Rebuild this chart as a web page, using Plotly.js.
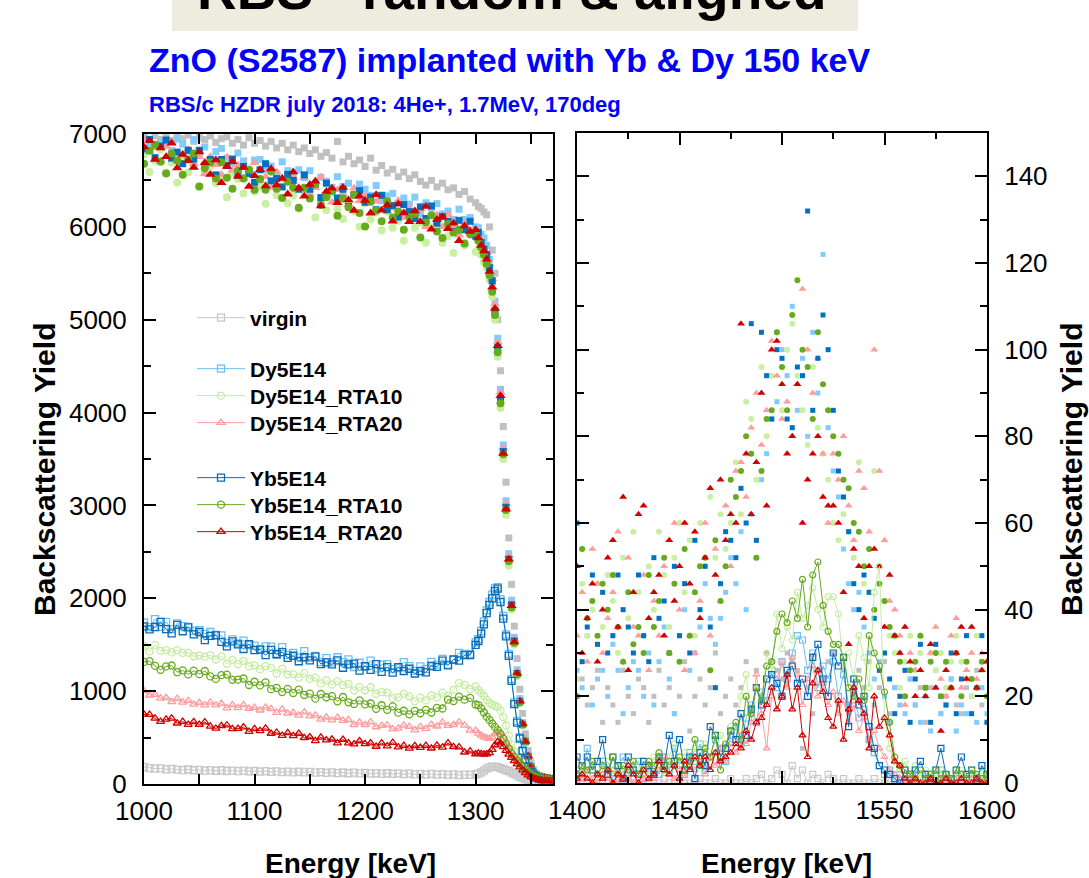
<!DOCTYPE html>
<html>
<head>
<meta charset="utf-8">
<script src="https://cdn.plot.ly/plotly-3.0.1.min.js"></script>
<style>html,body{margin:0;padding:0;background:#fff;}#chart{width:1089px;height:878px;}</style>
</head>
<body>
<div id="chart"></div>
<script>
// ---------- energies ----------
const EL = [1000,1005,1010,1015,1020,1025,1030,1035,1040,1045,1050,1055,1060,1065,1070,1075,1080,1085,1090,1095,1100,1105,1110,1115,1120,1125,1130,1135,1140,1145,1150,1155,1160,1165,1170,1175,1180,1185,1190,1195,1200,1205,1210,1215,1220,1225,1230,1235,1240,1245,1250,1255,1260,1265,1270,1275,1280,1285,1290,1295,1300,
 1302.5,1305,1307.5,1310,1312.5,1315,1317.5,1320,1322.5,1325,1327.5,1330,1332.5,1335,1337.5,1340,1342.5,1345,1347.5,1350,1352.5,1355,1357.5,1360,1362.5,1365,1367.5,1370];
const ER = [1400,1402.5,1405,1407.5,1410,1412.5,1415,1417.5,1420,1422.5,1425,1427.5,1430,1432.5,1435,1437.5,1440,1442.5,1445,1447.5,1450,1452.5,1455,1457.5,1460,1462.5,1465,1467.5,1470,1472.5,1475,1477.5,1480,1482.5,1485,1487.5,1490,1492.5,1495,1497.5,1500,1502.5,1505,1507.5,1510,1512.5,1515,1517.5,1520,1522.5,1525,1527.5,1530,1532.5,1535,1537.5,1540,1542.5,1545,1547.5,1550,1552.5,1555,1557.5,1560,1562.5,1565,1567.5,1570,1572.5,1575,1577.5,1580,1582.5,1585,1587.5,1590,1592.5,1595,1597.5,1600];

// ---------- left panel: random spectra ----------
const L_virgin_rand = [6960,6920,6980,6940,6990,6930,6970,6950,6990,6920,6960,6940,6980,6910,6950,6970,6900,6940,6880,6960,6900,6930,6870,6920,6850,6900,6830,6880,6810,6850,6790,6830,6760,6800,6740,6920,6700,6760,6680,6720,6650,6740,6610,6660,6580,6620,6540,6590,6520,6560,6490,6450,6500,6430,6470,6400,6420,6350,6380,6300,6260,
 6220,6200,6160,6130,6000,5750,5500,5000,4450,3850,3250,2650,2150,1700,1350,1020,760,540,360,230,150,110,90,78,70,64,60,56];
const L_Dy_rand = [7010,6900,7035,6910,6925,6820,6945,6890,6815,6940,6795,6860,6725,6810,6845,6740,6690,6795,6710,6605,6720,6725,6620,6655,6560,6700,6605,6540,6615,6530,6605,6440,6535,6490,6425,6540,6435,6470,6345,6460,6405,6340,6445,6280,6335,6360,6255,6310,6245,6320,6145,6260,6205,6250,6140,6170,6080,6190,6080,6100,6000,
 5990,5920,5880,5800,5650,5400,5200,4800,4250,3650,3050,2480,1980,1580,1230,920,660,470,310,195,128,97,82,74,68,63,59,56];
const L_DyR10_rand = [6780,6590,6715,6830,6585,6690,6475,6720,6585,6660,6435,6590,6655,6470,6515,6320,6580,6515,6360,6575,6380,6435,6250,6465,6340,6520,6255,6340,6195,6360,6385,6100,6285,6180,6365,6190,6085,6250,6165,6000,6255,6080,6155,5960,6165,5990,6065,5850,6125,5990,6045,5830,5995,6040,5830,5900,5720,5940,5800,5950,5730,
 5760,5700,5620,5560,5430,5250,5000,4600,4050,3500,2900,2350,1880,1500,1160,870,630,450,290,185,120,92,78,70,65,60,57,54];
const L_DyR20_rand = [6940,6810,6855,6710,6865,6920,6705,6770,6835,6680,6755,6570,6755,6670,6565,6750,6610,6665,6520,6615,6690,6495,6540,6425,6590,6520,6345,6530,6425,6530,6355,6420,6535,6340,6265,6400,6355,6240,6415,6280,6335,6140,6275,6310,6165,6200,6285,6100,6195,6110,6195,6000,6115,6130,6000,6130,6000,5910,6040,5970,5900,
 5900,5860,5790,5720,5600,5440,5170,4760,4220,3620,3020,2460,1960,1560,1210,905,655,465,305,192,126,96,81,73,67,62,58,55];
const L_Yb_rand = [6840,6940,6745,6870,6935,6740,6805,6680,6825,6730,6825,6660,6725,6560,6725,6660,6730,6555,6650,6575,6480,6615,6680,6495,6520,6430,6565,6500,6405,6560,6405,6460,6315,6470,6385,6310,6405,6220,6345,6390,6265,6320,6185,6340,6185,6230,6105,6240,6165,6090,6215,6090,6225,6040,6110,6060,5950,6070,5970,6060,5900,
 5940,5830,5760,5700,5560,5420,5100,4700,4150,3580,2980,2420,1930,1540,1190,890,640,455,298,185,122,94,80,72,66,62,58,55];
const L_YbR10_rand = [6680,6820,6885,6700,6575,6790,6715,6560,6725,6790,6435,6630,6695,6520,6695,6530,6410,6605,6520,6615,6400,6515,6400,6595,6410,6310,6485,6420,6205,6420,6305,6460,6235,6320,6385,6120,6305,6210,6345,6150,6005,6270,6175,6060,6275,6100,6165,5970,6105,6140,5885,6050,6125,5950,5880,6030,5940,5970,5820,5920,5940,
 5850,5780,5700,5600,5480,5300,5050,4650,4100,3550,2950,2400,1900,1520,1180,880,640,460,295,188,124,95,80,72,66,61,57,54];
const L_YbR20_rand = [6860,6930,6725,6850,6755,6900,6635,6780,6715,6640,6805,6690,6565,6720,6475,6650,6700,6545,6640,6435,6550,6615,6440,6625,6450,6520,6355,6590,6415,6330,6455,6490,6225,6380,6415,6260,6425,6290,6175,6330,6285,6150,6345,6180,6235,6060,6245,6150,6055,6170,6055,6220,5975,6080,6110,5980,6040,5850,6010,5950,5970,
 5880,5800,5740,5650,5520,5350,5120,4720,4180,3560,2960,2420,1920,1530,1190,890,645,458,298,188,124,95,80,72,66,61,57,54];

// ---------- left panel: aligned spectra ----------
const L_virgin_al = [185,172,165,168,158,162,155,150,156,148,152,145,150,142,148,140,145,138,144,136,140,134,138,130,136,128,134,126,132,125,130,122,128,120,126,118,124,116,122,114,120,112,118,110,116,108,114,106,112,104,110,102,108,100,106,98,104,96,100,98,105,
 112,125,145,165,178,186,188,182,172,160,148,138,124,108,92,78,65,54,46,40,36,33,31,30,29,28,27,27];
const L_Dy_al = [1740,1690,1775,1692,1745,1667,1730,1700,1693,1650,1658,1616,1637,1605,1600,1517,1558,1515,1545,1497,1490,1453,1483,1480,1390,1475,1390,1413,1362,1430,1362,1380,1312,1355,1310,1365,1313,1342,1260,1306,1270,1328,1245,1285,1291,1237,1247,1313,1270,1218,1267,1237,1315,1286,1348,1285,1336,1412,1400,1400,1525,
 1560,1650,1750,1870,1960,2040,2110,2120,1990,1810,1610,1400,1130,880,680,505,365,270,190,136,99,75,59,50,46,43,41,39];
const L_DyR10_al = [1486,1428,1499,1434,1442,1417,1442,1412,1415,1376,1383,1369,1388,1341,1374,1294,1336,1290,1327,1268,1278,1234,1270,1250,1190,1243,1179,1184,1146,1196,1132,1146,1083,1117,1070,1108,1064,1079,1009,1043,1009,1042,971,989,985,924,933,971,944,890,930,900,953,932,984,949,1014,1087,1068,1021,1050,
 1010,980,950,905,875,855,840,830,790,720,630,520,430,350,290,240,195,160,128,104,85,70,58,50,45,42,40,38];
const L_DyR20_al = [1002,956,963,923,929,884,919,879,897,857,876,850,879,849,866,818,852,820,852,813,824,794,825,809,768,803,760,768,740,775,732,740,696,719,687,716,682,690,638,664,638,666,614,628,633,591,599,632,618,580,617,597,639,622,663,628,638,666,631,577,575,
 545,525,505,495,490,505,540,560,550,510,455,400,350,305,270,240,200,165,135,110,88,70,58,50,45,42,40,38];
const L_Yb_al = [1697,1665,1690,1745,1668,1623,1714,1645,1687,1611,1637,1550,1595,1601,1530,1483,1537,1503,1454,1506,1442,1448,1387,1445,1400,1421,1359,1381,1322,1365,1332,1371,1292,1310,1288,1331,1252,1289,1297,1220,1268,1229,1290,1207,1258,1199,1258,1217,1241,1190,1215,1202,1271,1262,1328,1277,1341,1328,1388,1387,1498,
 1540,1620,1720,1840,1930,2000,2080,2105,1960,1780,1590,1380,1110,860,660,490,355,262,185,132,96,72,57,49,45,42,40,38];
const L_YbR10_al = [1315,1324,1272,1230,1266,1276,1204,1223,1180,1220,1183,1217,1159,1132,1172,1178,1122,1124,1136,1066,1101,1062,1094,1021,1036,990,1025,980,1017,959,973,919,969,934,946,890,937,880,862,900,857,867,810,848,799,836,768,789,750,788,762,799,770,820,813,908,893,941,908,927,856,
 850,815,770,725,690,650,615,580,540,490,430,380,330,290,255,222,185,155,130,108,88,72,60,52,47,44,41,39];
const L_YbR20_al = [750,748,706,671,697,707,654,671,639,670,641,666,620,598,627,633,593,597,613,564,594,572,599,544,555,521,550,519,544,498,506,465,503,473,482,441,479,441,430,463,432,441,404,440,408,445,397,413,384,412,392,414,385,416,394,441,401,397,342,354,323,
 330,325,320,322,335,370,420,455,440,400,360,320,285,250,215,182,150,120,95,76,62,52,45,40,37,35,33,32];

// ---------- right panel: random spectra ----------
const R_virgin_rand = [20,24,18,22,26,14,22,18,14,26,20,16,24,22,14,20,26,18,22,16,20,28,12,20,24,18,22,30,16,20,24,18,22,28,16,26,20,30,28,26,24,30,28,26,8,22,16,26,24,28,30,18,26,16,20,26,22,28,18,22,28,16,22,30,20,24,18,22,14,22,26,16,20,24,18,16,22,20,26,18,20];
const R_Dy_rand = [26,22,34,18,24,26,20,32,26,16,22,28,26,20,30,18,28,36,24,16,34,40,26,30,36,46,38,32,38,44,52,46,58,40,62,52,70,76,84,88,100,94,110,86,98,80,104,90,122,82,72,66,54,46,40,44,36,30,24,28,20,14,22,18,16,24,18,14,20,12,22,16,18,24,12,18,16,20,14,22,16];
const R_DyR10_rand = [24,46,34,40,46,36,48,42,30,52,38,58,44,34,50,40,58,48,36,52,60,44,56,34,60,50,66,52,62,54,60,74,62,88,84,70,96,80,94,104,86,100,106,94,86,78,96,82,76,70,60,56,62,58,52,74,46,44,72,50,42,34,30,22,28,34,26,30,22,30,26,30,22,28,34,28,24,20,34,26,28];
const R_DyR20_rand = [34,44,28,54,46,30,38,44,58,28,52,36,34,48,26,42,34,50,30,60,40,26,34,30,42,60,34,54,42,64,50,72,74,66,82,90,78,86,102,94,84,88,80,92,114,100,90,98,76,60,76,70,80,64,56,72,68,58,100,72,56,42,40,34,18,30,26,34,22,30,36,24,20,34,38,22,26,30,24,30,14];
const R_Yb_rand = [60,28,36,48,32,44,30,34,48,40,36,30,48,34,28,52,38,42,30,50,34,46,30,56,40,50,36,22,46,58,56,52,68,60,106,56,104,94,84,100,98,84,82,96,94,132,86,98,108,100,86,72,66,58,46,40,48,44,38,26,30,24,16,20,26,14,24,32,22,14,32,20,18,30,16,24,34,16,22,34,14];
const R_YbR10_rand = [20,54,38,42,34,46,40,48,36,28,44,32,36,30,48,36,42,52,30,46,28,54,34,44,50,52,26,56,42,50,70,66,72,80,76,52,72,84,86,104,96,86,108,116,100,96,84,104,92,86,80,76,70,68,60,58,50,54,40,46,42,36,34,28,20,26,28,34,22,28,30,20,28,22,30,20,28,24,22,28,20];
const R_YbR20_rand = [50,30,38,46,28,40,52,56,36,66,26,44,62,64,38,44,48,34,56,42,50,60,46,58,38,52,68,48,70,56,62,60,106,76,62,74,90,64,100,102,92,76,80,92,60,70,76,80,66,64,64,60,44,32,54,50,38,50,54,50,36,48,34,30,36,28,20,26,20,32,22,12,26,22,30,36,24,36,22,26,28];

// ---------- right panel: aligned spectra ----------
const R_virgin_al = [0,1,0,0,1,0,0,1,0,0,1,0,0,0,1,0,0,1,0,0,1,0,0,0,1,0,0,1,0,0,1,0,0,1,0,1,2,0,1,3,2,0,4,1,3,0,2,1,0,2,1,0,1,0,0,1,0,0,1,0,0,1,0,0,0,1,0,0,1,0,0,0,1,0,0,1,0,0,0,1,0];
const R_Dy_al = [3,2,8,4,2,5,3,1,4,6,2,3,5,1,3,4,2,6,3,8,4,2,7,5,9,3,6,10,8,5,11,13,9,15,18,14,21,19,26,22,28,24,30,34,33,26,30,22,27,24,28,20,25,18,21,15,17,10,7,4,2,3,1,2,0,1,2,0,1,2,0,3,1,0,2,1,0,2,1,0,1];
const R_DyR10_al = [1,3,2,4,1,3,5,2,4,3,1,4,3,5,2,6,4,3,6,9,5,7,4,8,6,9,5,7,11,8,13,10,20,25,15,22,18,30,26,39,31,36,33,44,38,41,45,40,36,43,43,39,26,30,24,34,29,22,44,50,15,8,5,3,5,2,4,1,3,2,1,3,2,1,2,3,1,2,1,3,2];
const R_DyR20_al = [0,1,3,1,0,2,1,3,0,2,1,0,2,1,4,1,3,6,2,1,3,2,4,3,5,2,6,4,8,5,9,7,11,9,14,25,16,8,20,24,28,22,29,25,18,24,27,20,23,18,21,16,19,14,18,12,15,10,12,8,6,3,2,1,0,1,0,0,1,0,0,1,0,0,1,0,0,1,0,0,1];
const R_Yb_al = [6,4,6,3,5,10,2,6,4,1,6,3,2,5,4,2,6,4,11,5,10,3,6,1,7,4,13,11,6,8,12,10,16,11,17,22,18,24,25,23,20,26,27,23,24,20,29,32,24,20,30,27,29,13,24,18,20,13,8,4,3,2,1,0,3,2,3,5,2,1,3,8,2,1,3,6,2,3,1,4,2];
const R_YbR10_al = [2,4,3,5,2,4,3,6,2,4,3,5,2,3,5,4,7,3,5,4,6,3,5,10,4,8,6,11,3,9,12,14,10,20,16,22,19,27,28,35,39,37,42,38,47,36,48,51,41,35,32,32,29,22,20,24,19,34,30,27,21,14,6,4,3,2,1,3,1,2,3,1,2,1,3,2,1,3,2,1,2];
const R_YbR20_al = [1,2,1,0,2,1,3,0,2,1,4,2,0,3,1,2,5,3,2,4,1,5,3,6,4,6,3,7,5,6,7,9,8,12,10,14,15,18,22,17,20,25,17,22,11,6,23,26,21,15,13,19,10,17,22,19,16,8,20,13,15,11,5,4,1,0,1,0,0,1,0,0,1,0,0,1,0,0,1,0,0];

// ---------- series meta ----------
const names = ['virgin','Dy5E14','Dy5E14_RTA10','Dy5E14_RTA20','Yb5E14','Yb5E14_RTA10','Yb5E14_RTA20'];
const symbols = ['square','square','circle','triangle-up','square','circle','triangle-up'];
const randColors = ['#c0c0c0','#80ccff','#c8f0a0','#ff9c9c','#0070c0','#66aa1e','#d00000'];
const alColors = ['#c8c8c8','#6cc0f0','#c4eca0','#ff9c9c','#0a6cb8','#66aa1e','#d00000'];
const Lrand = [L_virgin_rand,L_Dy_rand,L_DyR10_rand,L_DyR20_rand,L_Yb_rand,L_YbR10_rand,L_YbR20_rand];
const Lal = [L_virgin_al,L_Dy_al,L_DyR10_al,L_DyR20_al,L_Yb_al,L_YbR10_al,L_YbR20_al];
const Rrand = [R_virgin_rand,R_Dy_rand,R_DyR10_rand,R_DyR20_rand,R_Yb_rand,R_YbR10_rand,R_YbR20_rand];
const Ral = [R_virgin_al,R_Dy_al,R_DyR10_al,R_DyR20_al,R_Yb_al,R_YbR10_al,R_YbR20_al];

// one small legend per entry so the entry spacing matches the original
const legendIds = ['legend','legend2','legend3','legend4','legend5','legend6','legend7'];
const legendRowY = [318,369,396,423,478,505,532];

const traces = [];
for (let i = 0; i < names.length; i++) {
  const big = symbols[i] === 'triangle-up' ? 9 : (symbols[i] === 'circle' ? 8 : 7);
  traces.push({x: EL, y: Lrand[i], type: 'scatter', mode: 'markers', xaxis: 'x', yaxis: 'y', showlegend: false, hoverinfo: 'skip',
    marker: {symbol: symbols[i], size: big, color: randColors[i], line: {width: 0}}});
  traces.push({x: ER, y: Rrand[i], type: 'scatter', mode: 'markers', xaxis: 'x2', yaxis: 'y2', showlegend: false, hoverinfo: 'skip',
    marker: {symbol: symbols[i], size: big - 2, color: randColors[i], line: {width: 0}}});
}
for (let i = 0; i < names.length; i++) {
  traces.push({x: EL, y: Lal[i], type: 'scatter', mode: 'lines+markers', name: names[i], legend: legendIds[i],
    xaxis: 'x', yaxis: 'y', hoverinfo: 'skip', line: {color: alColors[i], width: 1},
    marker: {symbol: symbols[i] + '-open', size: 7, color: alColors[i], line: {width: 1.3, color: alColors[i]}}});
  traces.push({x: ER, y: Ral[i], type: 'scatter', mode: 'lines+markers', name: names[i], showlegend: false,
    xaxis: 'x2', yaxis: 'y2', hoverinfo: 'skip', line: {color: alColors[i], width: 1},
    marker: {symbol: symbols[i] + '-open', size: 6, color: alColors[i], line: {width: 1.2, color: alColors[i]}}});
}

const W = 1089, H = 878;
const px = v => v / W, py = v => 1 - v / H;
const FONT = 'Liberation Sans, Arial, Helvetica, sans-serif';
const axisBase = {showline: true, linecolor: '#000', linewidth: 2, mirror: 'ticks', ticks: 'inside', tickwidth: 2, tickcolor: '#000',
  showgrid: false, zeroline: false, tickfont: {family: FONT, size: 26, color: '#000'}, ticklabelstandoff: 10};

const layout = {
  width: W, height: H, margin: {l: 0, r: 0, t: 0, b: 0}, paper_bgcolor: '#fff', plot_bgcolor: '#fff',
  font: {family: FONT, color: '#000'},
  xaxis: Object.assign({}, axisBase, {domain: [px(144), px(553)], range: [1000, 1370], tick0: 1000, dtick: 100, ticklen: 10, ticklabelstandoff: 3,
    minor: {dtick: 50, ticklen: 10, tickwidth: 2, tickcolor: '#000', ticks: 'inside'}, anchor: 'y'}),
  yaxis: Object.assign({}, axisBase, {domain: [py(784), py(134)], range: [0, 7000], dtick: 1000, ticklen: 12,
    minor: {dtick: 500, ticklen: 7, tickwidth: 2, tickcolor: '#000', ticks: 'inside'}, anchor: 'x'}),
  xaxis2: Object.assign({}, axisBase, {domain: [px(577), px(987)], range: [1400, 1600], tick0: 1400, dtick: 50, ticklen: 12, ticklabelstandoff: 3,
    minor: {dtick: 25, ticklen: 6, tickwidth: 2, tickcolor: '#000', ticks: 'inside'}, anchor: 'y2'}),
  yaxis2: Object.assign({}, axisBase, {domain: [py(783), py(133)], range: [0, 150], dtick: 20, ticklen: 12, side: 'right',
    minor: {dtick: 10, ticklen: 7, tickwidth: 2, tickcolor: '#000', ticks: 'inside'}, anchor: 'x2'}),
  showlegend: true,
  shapes: [{type: 'rect', xref: 'paper', yref: 'paper', x0: px(172), x1: px(858), y0: py(31), y1: 1.01, fillcolor: '#eeebdf', line: {width: 0}, layer: 'below'}],
  annotations: [
    {text: 'RBS - random & aligned', xref: 'paper', yref: 'paper', x: px(512), y: py(-10), xanchor: 'center', yanchor: 'middle', showarrow: false,
      font: {family: FONT, size: 55, color: '#000', weight: 'bold'}},
    {text: 'ZnO (S2587) implanted with Yb & Dy 150 keV', xref: 'paper', yref: 'paper', x: px(147), y: py(60), xanchor: 'left', yanchor: 'middle', showarrow: false,
      font: {family: FONT, size: 34, color: '#0000ff', weight: 'bold'}},
    {text: 'RBS/c HZDR july 2018: 4He+, 1.7MeV, 170deg', xref: 'paper', yref: 'paper', x: px(147), y: py(104), xanchor: 'left', yanchor: 'middle', showarrow: false,
      font: {family: FONT, size: 22, color: '#0000ff', weight: 'bold'}},
    {text: 'Energy [keV]', xref: 'paper', yref: 'paper', x: px(350), y: py(863), xanchor: 'center', yanchor: 'middle', showarrow: false,
      font: {family: FONT, size: 28, color: '#000', weight: 'bold'}},
    {text: 'Energy [keV]', xref: 'paper', yref: 'paper', x: px(786), y: py(863), xanchor: 'center', yanchor: 'middle', showarrow: false,
      font: {family: FONT, size: 28, color: '#000', weight: 'bold'}},
    {text: 'Backscattering Yield', xref: 'paper', yref: 'paper', x: px(44), y: py(470), xanchor: 'center', yanchor: 'middle', showarrow: false, textangle: -90,
      font: {family: FONT, size: 30, color: '#000', weight: 'bold'}},
    {text: 'Backscattering Yield', xref: 'paper', yref: 'paper', x: px(1071), y: py(470), xanchor: 'center', yanchor: 'middle', showarrow: false, textangle: -90,
      font: {family: FONT, size: 30, color: '#000', weight: 'bold'}}
  ]
};
for (let i = 0; i < legendIds.length; i++) {
  layout[legendIds[i]] = {x: px(192), y: py(legendRowY[i]), xanchor: 'left', yanchor: 'middle', bgcolor: 'rgba(0,0,0,0)',
    itemwidth: 48, font: {family: FONT, size: 21, color: '#000', weight: 'bold'}};
}

Plotly.newPlot('chart', traces, layout, {displayModeBar: false, staticPlot: true});
</script>
</body>
</html>
